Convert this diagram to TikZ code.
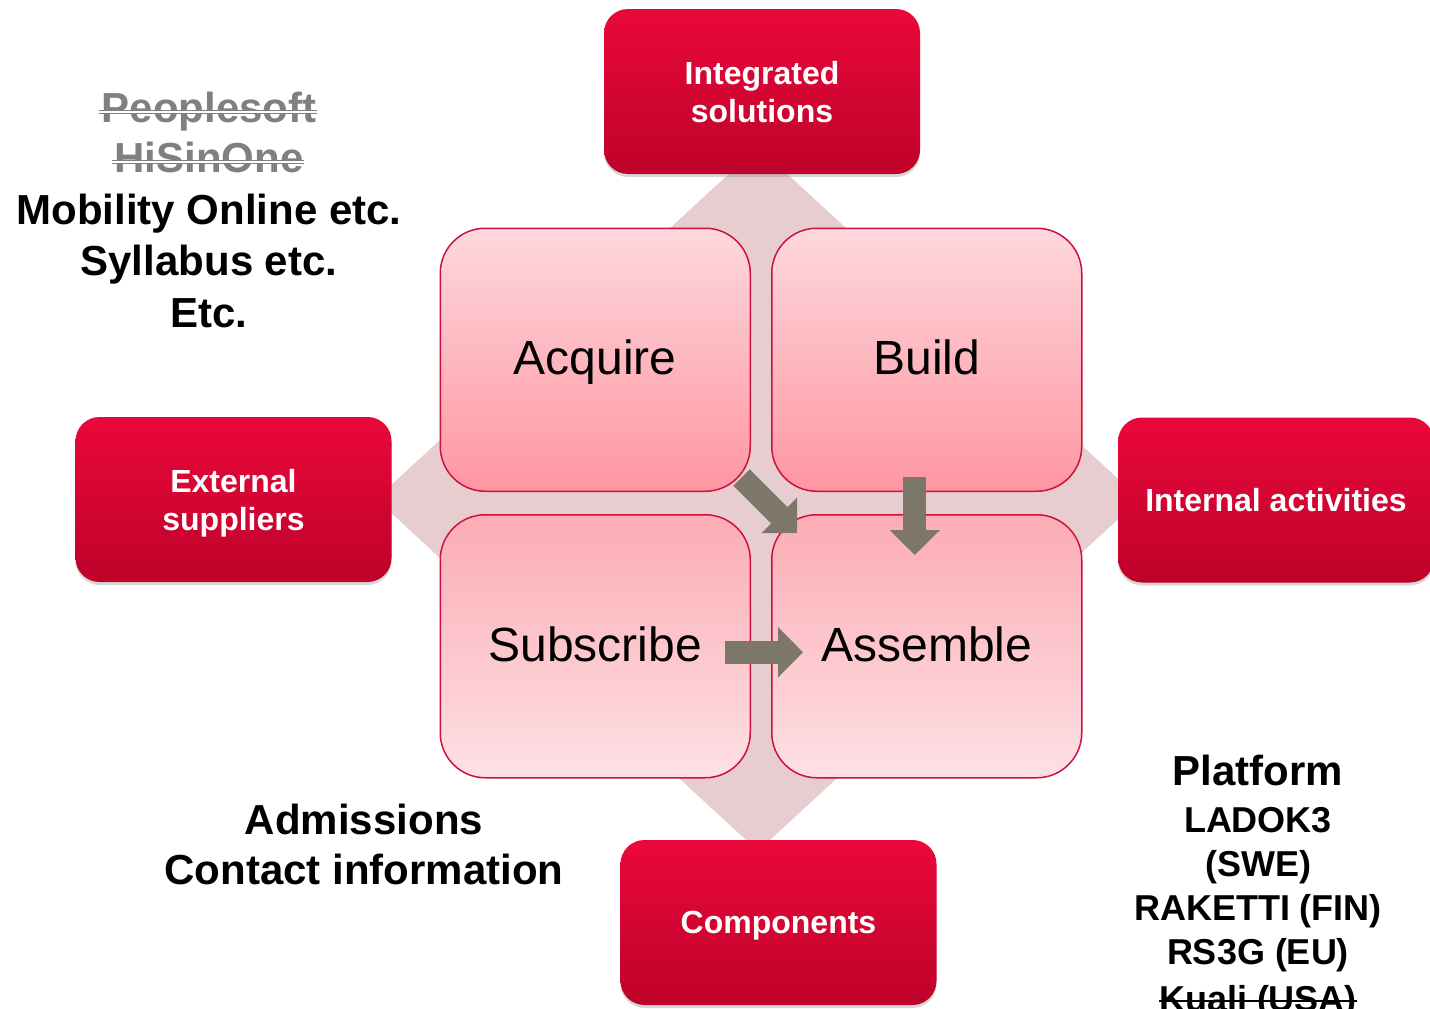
\documentclass[tikz,border=0pt]{standalone}
\usepackage{fontspec}
\setmainfont{Liberation Sans}
\usetikzlibrary{matrix, shadows, arrows.meta}

\definecolor{boxred}{RGB}{234,8,58}
\definecolor{boxreddark}{RGB}{190,2,42}
\definecolor{quadline}{RGB}{206,16,62}
\definecolor{quadlight}{RGB}{253,216,221}
\definecolor{quaddark}{RGB}{254,150,161}
\definecolor{quadmid}{RGB}{252,172,181}
\definecolor{quadpale}{RGB}{253,224,228}
\definecolor{backpink}{RGB}{232,205,208}
\definecolor{arrowgray}{RGB}{124,119,104}

\begin{document}
\begin{tikzpicture}
    [x=1pt, y=1pt,
     redbox/.style={rounded corners=24pt, top color=boxred, bottom color=boxreddark,
       minimum width=316pt, minimum height=165pt, align=center, text=white, text depth=0pt,
       font=\fontsize{32}{38}\selectfont\bfseries,
       drop shadow={opacity=0.3, shadow xshift=0pt, shadow yshift=-3pt}},
     quad/.style={draw=quadline, line width=1.5pt, rounded corners=45pt, anchor=center,
       minimum width=310pt, minimum height=263pt, text height=35pt, text depth=5pt,
       font=\fontsize{48}{58}\selectfont},
     topquad/.style={quad, top color=quadlight, bottom color=quaddark},
     lowquad/.style={quad, top color=quadmid, bottom color=quadpale},
     notetext/.style={anchor=base, inner sep=0pt, font=\fontsize{42}{50}\selectfont\bfseries},
     smallnote/.style={anchor=base, inner sep=0pt, font=\fontsize{36}{43}\selectfont\bfseries},
     gonetext/.style={notetext, text=gray},
     gonestrike/.style={gray, line width=1.3pt, double=white, double distance=1.5pt},
     blackstrike/.style={black, line width=2pt},
     blockarrow/.style={arrowgray, line width=23pt, -{Triangle[length=25pt, width=49pt]}}]

    \useasboundingbox (0,0) rectangle (1430,-1009);
    \fill[white] (0,0) rectangle (1430,-1009);

    \fill[backpink] (758,-147) -- (1140,-499) -- (758,-851) -- (376,-499) -- cycle;

    \node[redbox] (integrated) at (762,-91.5) {Integrated\\solutions};
    \node[redbox] (external) at (233.5,-499.5) {External\\suppliers};
    \node[redbox] (internal) at (1276,-500) {Internal activities};
    \node[redbox] (components) at (778.5,-922.5) {Components};

    \matrix (grid) at (761,-503) [matrix of nodes, column sep=20pt, row sep=22pt, inner sep=0pt]
    {
      |[topquad]| Acquire & |[topquad]| Build \\
      |[lowquad]| Subscribe & |[lowquad]| Assemble \\
    };

    \draw[blockarrow] ([xshift=-9.5pt, yshift=14.5pt]grid-1-1.south east) -- ([xshift=26pt, yshift=-19pt]grid-2-2.north west);
    \draw[blockarrow] ([xshift=-12pt, yshift=15pt]grid-1-2.south) -- ([xshift=-12pt, yshift=-41pt]grid-2-2.north);
    \draw[blockarrow] ([xshift=-26pt, yshift=-6pt]grid-2-1.east) -- ([xshift=32pt, yshift=-6pt]grid-2-2.west);

    \node[gonetext] (peoplesoft) at (209,-122) {Peoplesoft};
    \node[gonetext] (hisinone) at (209,-172) {HiSinOne};
    \node[notetext] (mobility) at (209,-224) {Mobility Online etc.};
    \node[notetext] (syllabus) at (209,-275) {Syllabus etc.};
    \node[notetext] (etc) at (209,-327) {Etc.};
    \draw[gonestrike] ([xshift=-2pt, yshift=10pt]peoplesoft.base west) -- ([yshift=10pt]peoplesoft.base east);
    \draw[gonestrike] ([xshift=-2pt, yshift=10pt]hisinone.base west) -- ([yshift=10pt]hisinone.base east);

    \node[notetext] (admissions) at (364,-834) {Admissions};
    \node[notetext] (contact) at (364,-884) {Contact information};

    \node[notetext] (platform) at (1258,-785) {Platform};
    \node[smallnote] (ladok) at (1258,-832) {LADOK3};
    \node[smallnote] (swe) at (1258,-876) {(SWE)};
    \node[smallnote] (raketti) at (1258,-920) {RAKETTI (FIN)};
    \node[smallnote] (rsg) at (1258,-964) {RS3G (EU)};
    \node[smallnote] (kuali) at (1258,-1011) {Kuali (USA)};
    \draw[blackstrike] ([yshift=10pt]kuali.base west) -- ([yshift=10pt]kuali.base east);

\end{tikzpicture}
\end{document}
